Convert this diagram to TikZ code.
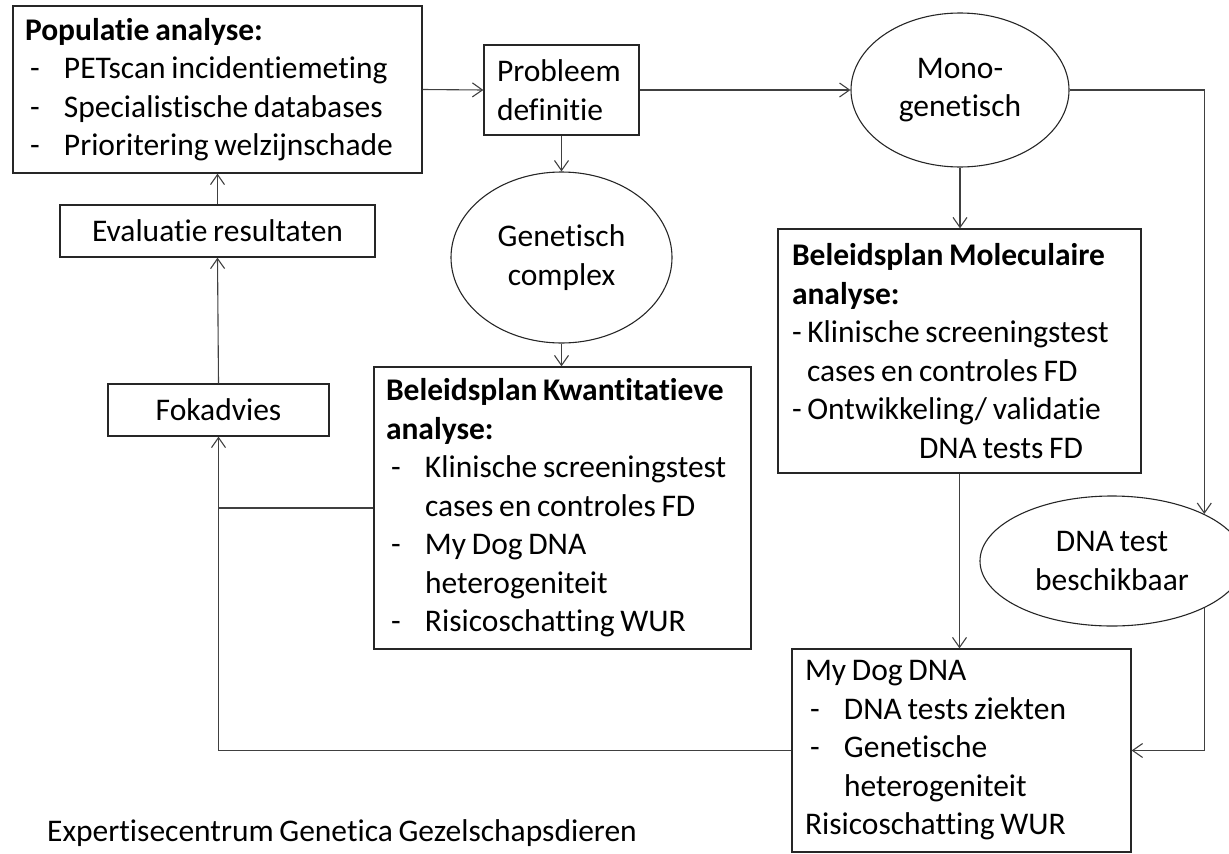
\documentclass[tikz,border=0pt]{standalone}
\usepackage{fontspec}
\setmainfont{Carlito}[Ligatures=NoCommon, WordSpace=0.8]
\usetikzlibrary{arrows.meta,shapes.geometric}

\newcommand{\bul}[1]{\hspace*{5pt}\makebox[34pt][l]{-}#1}
\newcommand{\cont}[1]{\hspace*{39pt}#1}

\begin{document}
\begin{tikzpicture}[
    x=1pt, y=-1pt,
    every node/.style={font=\fontsize{31.5}{38.5}\selectfont},
    box/.style={
        rectangle,
        draw=black!85,
        line width=1.3pt,
        align=flush left,
        inner ysep=3pt
    },
    smallbox/.style={
        rectangle,
        draw=black!85,
        line width=1.3pt,
        align=center,
        minimum height=52pt,
        inner sep=2pt
    },
    oval/.style={
        ellipse,
        draw=black!85,
        line width=1.1pt,
        align=center,
        inner sep=0pt
    },
    arrow/.style={-{Straight Barb[length=10pt,width=14pt]}, line width=1.1pt, draw=black!75},
    link/.style={line width=1.1pt, draw=black!75}
]
\useasboundingbox (0,0) rectangle (1229,854);

\node[box, text width=385pt, inner xsep=12pt, minimum height=167pt] (pop) at (217.5,89.5)
{\textbf{Populatie analyse:}\\
\bul{PETscan incidentiemeting}\\
\bul{Specialistische databases}\\
\bul{Prioritering welzijnschade}};

\node[box, text width=129pt, inner xsep=13pt, minimum height=90pt] (prob) at (561.5,90)
{Probleem\\definitie};

\node[oval, minimum width=218pt, minimum height=154pt] (mono) at (960,90)
{Mono-\\genetisch};

\node[smallbox, minimum width=315pt] (eval) at (217.5,231) {Evaluatie resultaten};

\node[oval, minimum width=221pt, minimum height=171pt] (gen) at (561.5,257.5)
{Genetisch\\complex};

\node[box, text width=335pt, inner xsep=14pt, minimum height=244pt] (mol) at (959.5,351)
{\textbf{Beleidsplan Moleculaire}\\
\textbf{analyse:}\\
- Klinische screeningstest\\
\hspace*{15pt}cases en controles FD\\
- Ontwikkeling/ validatie\\
\hspace*{127pt}DNA tests FD};

\node[smallbox, minimum width=221pt] (fok) at (218.5,410) {Fokadvies};

\node[box, text width=353pt, inner xsep=12pt, minimum height=282pt] (kwant) at (562.5,508)
{\textbf{Beleidsplan Kwantitatieve}\\
\textbf{analyse:}\\
\bul{Klinische screeningstest}\\
\cont{cases en controles FD}\\
\bul{My Dog DNA}\\
\cont{heterogeniteit}\\
\bul{Risicoschatting WUR}};

\node[oval, minimum width=264pt, minimum height=130pt] (dna) at (1112,561)
{DNA test\\beschikbaar};

\node[box, text width=313pt, inner xsep=13pt, minimum height=203pt] (mydog) at (961.5,750.5)
{My Dog DNA\\
\bul{DNA tests ziekten}\\
\bul{Genetische}\\
\cont{heterogeniteit}\\
Risicoschatting WUR};

\node[anchor=west, inner sep=0pt] (credit) at (47,833)
{Expertisecentrum Genetica Gezelschapsdieren};

\draw[arrow] (pop.east) -- (prob.west);
\draw[arrow] (prob.east) -- (mono.west);
\draw[arrow] (prob.south) -- (gen.north);
\draw[arrow] (gen.south) -- (gen.south |- kwant.north);
\draw[arrow] (mono.south) -- (mono.south |- mol.north);
\draw[arrow] (mono.east) -| (dna.27);
\draw[arrow] (dna.-27) |- (mydog.east);
\draw[arrow] (mol.south) -- (mol.south |- mydog.north);
\draw[arrow] (mydog.west) -| (fok.south);
\draw[link] (kwant.west) -- (kwant.west -| fok.south);
\draw[arrow] (fok.north) -- (eval.south);
\draw[arrow] (eval.north) -- (pop.south);

\end{tikzpicture}
\end{document}
